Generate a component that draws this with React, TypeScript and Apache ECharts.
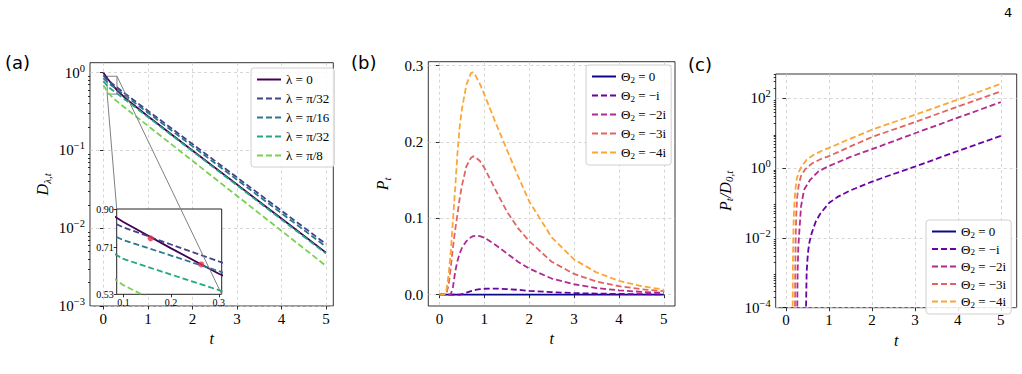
import React, { useEffect, useRef } from 'react';
import * as echarts from 'echarts';

// ---------- Panel (a): D_{lambda,t} (log scale) ----------
const tA = [0, 0.1, 0.2, 0.3, 0.5, 1, 2, 3, 4, 5];
const dLam0 = [1.0, 0.83, 0.705, 0.602, 0.467, 0.275, 0.1, 0.0366, 0.0133, 0.00486];
const dLamPi32 = [0.92, 0.803, 0.722, 0.65, 0.531, 0.324, 0.121, 0.0451, 0.0168, 0.00628];
const dLamPi16 = [0.85, 0.742, 0.674, 0.612, 0.503, 0.306, 0.1136, 0.0421, 0.0156, 0.0058];
const dLamPi32b = [0.78, 0.66, 0.599, 0.544, 0.446, 0.269, 0.098, 0.0356, 0.01297, 0.00472];
const dLamPi8 = [0.69, 0.561, 0.483, 0.43, 0.348, 0.2075, 0.0736, 0.0261, 0.00927, 0.00329];
const crossT = [0.157, 0.263];
const crossD = [0.75, 0.638];
const insetT = [0.086, 0.306];
const insetD = [0.53, 0.9];
const insetXTicks = [0.1, 0.2, 0.3];
const insetYTicks = [0.53, 0.71, 0.9];
const aYTicks = [0.001, 0.01, 0.1, 1];
const aLabels = ['λ = 0', 'λ = π/32', 'λ = π/16', 'λ = π/32', 'λ = π/8'];
const aColors = ['#440154', '#414487', '#2a788e', '#22a884', '#7ad151'];

// ---------- Panel (b): P_t ----------
const tB = [0, 0.1, 0.15, 0.2, 0.25, 0.3, 0.35, 0.4, 0.45, 0.5, 0.6, 0.7, 0.75, 0.8, 0.9, 1.0, 1.25, 1.5, 1.75, 2, 2.5, 3, 3.5, 4, 4.5, 5];
const pTheta0 = [0, 0, 0, 0, 0, 0, 0, 0, 0, 0, 0, 0, 0, 0, 0, 0, 0, 0, 0, 0, 0, 0, 0, 0, 0, 0];
const pTheta1 = [0, 0, 0, 0, 0, 0, 0, 0, 0, 0.0006, 0.0025, 0.0045, 0.0053, 0.006, 0.007, 0.0076, 0.0078, 0.0072, 0.0062, 0.0048, 0.0031, 0.0019, 0.0012, 0.0008, 0.0005, 0.0003];
const pTheta2 = [0, 0, 0, 0, 0, 0.01, 0.03, 0.044, 0.054, 0.061, 0.07, 0.075, 0.0765, 0.077, 0.0765, 0.0745, 0.065, 0.054, 0.043, 0.034, 0.021, 0.0135, 0.0085, 0.0055, 0.0035, 0.0022];
const pTheta3 = [0, 0, 0, 0.012, 0.035, 0.062, 0.085, 0.105, 0.126, 0.143, 0.168, 0.179, 0.181, 0.18, 0.175, 0.166, 0.137, 0.109, 0.087, 0.07, 0.043, 0.027, 0.017, 0.011, 0.007, 0.0045];
const pTheta4 = [0, 0, 0.004, 0.025, 0.055, 0.098, 0.14, 0.185, 0.22, 0.243, 0.275, 0.29, 0.291, 0.287, 0.276, 0.262, 0.225, 0.19, 0.155, 0.122, 0.075, 0.046, 0.029, 0.018, 0.011, 0.0065];
const bYTicks = [0, 0.1, 0.2, 0.3];
const xTicks = [0, 1, 2, 3, 4, 5];
const thetaLabels = ['Θ{s|2} = 0', 'Θ{s|2} = −i', 'Θ{s|2} = −2i', 'Θ{s|2} = −3i', 'Θ{s|2} = −4i'];
const thetaColors = ['#0d0887', '#6a00a8', '#b12a90', '#e16462', '#fca636'];

// ---------- Panel (c): P_t / D_{0,t} (log scale) ----------
const tC0 = [0, 1, 2, 3, 4, 5];
const rTheta0 = [0, 0, 0, 0, 0, 0];
const tC1 = [0.455, 0.466, 0.48, 0.5, 0.52, 0.55, 0.6, 0.7, 0.8, 1.0, 1.2, 1.5, 2, 2.5, 3, 3.5, 4, 4.5, 5];
const rTheta1 = [1e-5, 1e-4, 1e-3, 0.0025, 0.0046, 0.008, 0.014, 0.031, 0.05, 0.1, 0.15, 0.23, 0.41, 0.68, 1.1, 1.85, 3.1, 5.1, 8.4];
const tC2 = [0.255, 0.262, 0.27, 0.285, 0.3, 0.35, 0.42, 0.56, 0.75, 1.0, 1.5, 2, 3, 4, 5];
const rTheta2 = [1e-5, 1e-4, 1e-3, 5e-3, 0.01, 0.08, 0.24, 0.46, 0.8, 1.15, 2.1, 3.5, 10, 28, 78];
const tC3 = [0.205, 0.21, 0.215, 0.225, 0.24, 0.26, 0.3, 0.35, 0.45, 0.6, 0.8, 1.0, 1.5, 2, 3, 4, 5];
const rTheta3 = [1e-5, 1e-4, 1e-3, 0.01, 0.05, 0.15, 0.35, 0.6, 0.95, 1.35, 1.8, 2.2, 4.2, 7.8, 21, 58, 158];
const tC4 = [0.15, 0.155, 0.16, 0.17, 0.18, 0.2, 0.22, 0.25, 0.3, 0.36, 0.48, 0.64, 0.87, 1.0, 1.5, 2, 3, 4, 5];
const rTheta4 = [1e-5, 1e-4, 1.5e-3, 0.01, 0.04, 0.12, 0.25, 0.5, 0.8, 1.1, 1.75, 2.4, 3.3, 3.8, 7.0, 12.6, 34, 92, 263];
const cYTicks = [1e-4, 1e-2, 1, 100];

const SERIF = "'Liberation Serif', 'DejaVu Serif', serif";
const SANS = "'DejaVu Sans', sans-serif";
const DASH = [6, 3];

const pairs = (t: number[], v: number[]) => t.map((x, i) => [x, v[i]]);
const posPairs = (t: number[], v: number[]) => t.map((x, i) => [x, v[i] > 0 ? v[i] : null]);
const minorLog = (lo: number, hi: number) => {
  const out: number[] = [];
  for (let e = lo; e <= hi; e++) for (let m = 2; m <= 9; m++) out.push(m * Math.pow(10, e));
  return out;
};

const supTxt = (n: number) => (n < 0 ? '\u2212' + -n : String(n));
const powLabel = (v: number) => `{b|10}{s|${supTxt(Math.round(Math.log10(v)))}}`;
const powRich = {
  b: { fontSize: 15, fontFamily: SERIF, color: '#000' },
  s: { fontSize: 10.5, fontFamily: SERIF, color: '#000', padding: [0, 0, 9, 0] },
};
const splitLine = { show: true, lineStyle: { color: '#cccccc', type: [3, 3], width: 0.8 } };
const tick = (vals: number[], len = 3.5) => ({ show: true, length: len, customValues: vals, lineStyle: { color: '#000', width: 0.8 } });
const numLabel = (vals: number[], fmt: (v: number) => string, size = 15) => ({
  show: true, customValues: vals, formatter: fmt, fontFamily: SERIF, fontSize: size, color: '#000', margin: 5,
});
const nameStyle = {
  color: '#000',
  rich: {
    i: { fontSize: 16, fontStyle: 'italic', fontFamily: SERIF, color: '#000' },
    s: { fontSize: 11, fontStyle: 'italic', fontFamily: SERIF, color: '#000', padding: [8, 0, 0, 0] },
  },
};
const xName = { name: '{i|t}', nameLocation: 'middle', nameGap: 21, nameTextStyle: nameStyle };
const legendRich = {
  s: { fontSize: 9, fontFamily: SERIF, color: '#000', padding: [6, 0, 0, 0] },
};
const legendBase = {
  orient: 'vertical', itemWidth: 24, itemHeight: 10, itemGap: 5, selectedMode: false,
  itemStyle: { opacity: 0 },
  backgroundColor: 'rgba(255,255,255,0.85)', borderColor: '#d0d0d0', borderWidth: 1, borderRadius: 3,
  textStyle: { fontFamily: SERIF, fontSize: 13, color: '#000', lineHeight: 12, rich: legendRich },
};

export default function App() {
  const ref = useRef<HTMLDivElement>(null);
  useEffect(() => {
    if (!ref.current) return;
    const chart = echarts.init(ref.current, undefined, { renderer: 'svg' });
    const aData = [dLam0, dLamPi32, dLamPi16, dLamPi32b, dLamPi8];
    const bData = [pTheta0, pTheta1, pTheta2, pTheta3, pTheta4];
    const cT = [tC0, tC1, tC2, tC3, tC4];
    const cData = [rTheta0, rTheta1, rTheta2, rTheta3, rTheta4];
    const names: Record<string, string> = {};
    const series: any[] = [];
    aData.forEach((d, i) => {
      names['a' + i] = aLabels[i];
      series.push({
        name: 'a' + i, type: 'line', xAxisIndex: 0, yAxisIndex: 0, data: pairs(tA, d), symbol: 'none',
        lineStyle: { color: aColors[i], width: 1.8, type: i === 0 ? 'solid' : DASH }, itemStyle: { color: aColors[i] },
        z: 2,
        ...(i === 0 ? {
          markArea: {
            silent: true, itemStyle: { color: 'rgba(0,0,0,0)', borderColor: '#808080', borderWidth: 1 },
            data: [[{ coord: [insetT[0], insetD[0]] }, { coord: [insetT[1], insetD[1]] }]],
          },
        } : {}),
      });
      series.push({
        name: 'ai' + i, type: 'line', xAxisIndex: 1, yAxisIndex: 1, data: pairs(tA, d), symbol: 'none',
        lineStyle: { color: aColors[i], width: 1.8, type: i === 0 ? 'solid' : DASH }, itemStyle: { color: aColors[i] },
        z: 11, clip: true,
      });
    });
    series.push({
      name: 'cross', type: 'scatter', xAxisIndex: 1, yAxisIndex: 1, data: pairs(crossT, crossD),
      symbolSize: 6, itemStyle: { color: '#ec2f4b' }, z: 12,
    });
    bData.forEach((d, i) => {
      names['b' + i] = thetaLabels[i];
      series.push({
        name: 'b' + i, type: 'line', xAxisIndex: 2, yAxisIndex: 2, data: pairs(tB, d), symbol: 'none',
        lineStyle: { color: thetaColors[i], width: 1.8, type: i === 0 ? 'solid' : DASH }, itemStyle: { color: thetaColors[i] },
      });
    });
    cData.forEach((d, i) => {
      names['c' + i] = thetaLabels[i];
      series.push({
        name: 'c' + i, type: 'line', xAxisIndex: 3, yAxisIndex: 3, data: posPairs(cT[i], d), symbol: 'none',
        lineStyle: { color: thetaColors[i], width: 1.8, type: i === 0 ? 'solid' : DASH }, itemStyle: { color: thetaColors[i] },
        clip: true,
      });
    });
    const fmtName = (n: string) => names[n];
    const gridBox = { show: true, borderColor: '#000', borderWidth: 0.8, backgroundColor: 'transparent', outerBoundsMode: 'none' };
    const option: any = {
      animation: false,
      grid: [
        { ...gridBox, left: 90, top: 62.7, width: 243.3, height: 243.3 },
        { ...gridBox, left: 116.7, top: 209, width: 105, height: 85.3, backgroundColor: '#fff', borderColor: '#222', borderWidth: 1, z: 10 },
        { ...gridBox, left: 428.3, top: 61.7, width: 246.7, height: 244.3 },
        { ...gridBox, left: 775.7, top: 74, width: 241, height: 233.7 },
      ],
      xAxis: [
        { type: 'value', gridIndex: 0, min: -0.3, max: 5.165, axisLine: { show: false }, axisTick: tick(xTicks), axisLabel: numLabel(xTicks, (v) => String(v)), splitLine, ...xName },
        { type: 'value', gridIndex: 1, min: insetT[0], max: insetT[1], axisLine: { show: false }, axisTick: tick(insetXTicks, 3), axisLabel: { ...numLabel(insetXTicks, (v) => v.toFixed(1), 10), margin: 3 }, splitLine: { show: false }, z: 12 },
        { type: 'value', gridIndex: 2, min: -0.25, max: 5.25, axisLine: { show: false }, axisTick: tick(xTicks), axisLabel: numLabel(xTicks, (v) => String(v)), splitLine, ...xName },
        { type: 'value', gridIndex: 3, min: -0.24, max: 5.37, axisLine: { show: false }, axisTick: tick(xTicks), axisLabel: numLabel(xTicks, (v) => String(v)), splitLine, ...xName },
      ],
      yAxis: [
        {
          type: 'log', logBase: 10, gridIndex: 0, min: 0.001, max: 1.343, axisLine: { show: false }, axisTick: tick(aYTicks),
          axisLabel: { show: true, customValues: aYTicks, formatter: powLabel, rich: powRich, margin: 5 }, splitLine,
          name: '{i|D}{s|λ,t}', nameLocation: 'middle', nameGap: 38, nameRotate: 90, nameTextStyle: nameStyle,
        },
        {
          type: 'log', logBase: 10, gridIndex: 1, min: insetD[0], max: insetD[1], axisLine: { show: false }, axisTick: tick(insetYTicks, 3),
          axisLabel: { ...numLabel(insetYTicks, (v) => v.toFixed(2), 10), margin: 3 }, splitLine: { show: false }, z: 12,
        },
        {
          type: 'value', gridIndex: 2, min: -0.015, max: 0.305, axisLine: { show: false }, axisTick: tick(bYTicks),
          axisLabel: numLabel(bYTicks, (v) => v.toFixed(1)), splitLine,
          name: '{i|P}{s|t}', nameLocation: 'middle', nameGap: 36, nameRotate: 90, nameTextStyle: nameStyle,
        },
        {
          type: 'log', logBase: 10, gridIndex: 3, min: 1e-4, max: 500, axisLine: { show: false }, axisTick: tick(cYTicks),
          axisLabel: { show: true, customValues: cYTicks, formatter: powLabel, rich: powRich, margin: 5 }, splitLine,
          name: '{i|P}{s|t}{i|/D}{s|0,t}', nameLocation: 'middle', nameGap: 41, nameRotate: 90, nameTextStyle: nameStyle,
        },
        {
          type: 'log', logBase: 10, gridIndex: 0, min: 0.001, max: 1.343, position: 'left', axisLine: { show: false },
          axisTick: tick(minorLog(-3, 0), 2), axisLabel: { show: false }, splitLine: { show: false },
        },
        {
          type: 'log', logBase: 10, gridIndex: 3, min: 1e-4, max: 500, position: 'left', axisLine: { show: false },
          axisTick: tick(minorLog(-4, 2), 2), axisLabel: { show: false }, splitLine: { show: false },
        },
      ],
      legend: [
        { ...legendBase, data: ['a0', 'a1', 'a2', 'a3', 'a4'], left: 251, top: 68, formatter: fmtName, itemGap: 6 },
        { ...legendBase, data: ['b0', 'b1', 'b2', 'b3', 'b4'], left: 586, top: 65, formatter: fmtName, itemGap: 5 },
        { ...legendBase, data: ['c0', 'c1', 'c2', 'c3', 'c4'], left: 926, top: 220, formatter: fmtName, itemGap: 3.5 },
      ],
      series,
    };
    chart.setOption(option);

    const p1 = chart.convertToPixel({ gridIndex: 0 } as any, [insetT[0], insetD[0]]) as number[];
    const p2 = chart.convertToPixel({ gridIndex: 1 } as any, [insetT[0], insetD[1]]) as number[];
    const p3 = chart.convertToPixel({ gridIndex: 0 } as any, [insetT[1], insetD[1]]) as number[];
    const p4 = chart.convertToPixel({ gridIndex: 1 } as any, [insetT[1], insetD[0]]) as number[];
    chart.setOption({
      graphic: {
        elements: [
          { id: 'la', type: 'text', left: 5, top: 53, style: { text: '(a)', fill: '#000', font: `18px ${SANS}` } },
          { id: 'lb', type: 'text', left: 351, top: 53, style: { text: '(b)', fill: '#000', font: `18px ${SANS}` } },
          { id: 'lc', type: 'text', left: 688, top: 55, style: { text: '(c)', fill: '#000', font: `18px ${SANS}` } },
          { id: 'pg', type: 'text', left: 1004, top: 6, style: { text: '4', fill: '#000', font: `13px ${SANS}` } },
          { id: 'c1', type: 'line', z: 20, shape: { x1: p1[0], y1: p1[1], x2: p2[0], y2: p2[1] }, style: { stroke: '#808080', lineWidth: 1 } },
          { id: 'c2', type: 'line', z: 20, shape: { x1: p3[0], y1: p3[1], x2: p4[0], y2: p4[1] }, style: { stroke: '#808080', lineWidth: 1 } },
        ],
      },
    });
    return () => chart.dispose();
  }, []);
  return <div ref={ref} style={{ position: 'absolute', left: 0, top: 0, width: 1022, height: 374 }} />;
}
